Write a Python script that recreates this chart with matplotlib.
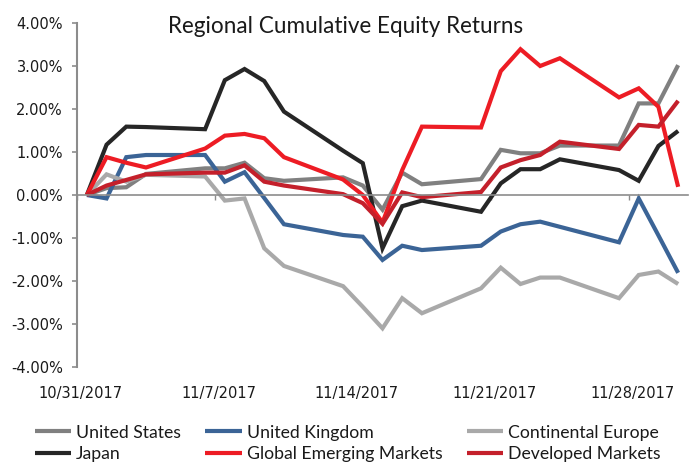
import matplotlib
matplotlib.use("Agg")
import matplotlib.pyplot as plt
import matplotlib.dates as mdates
import matplotlib.transforms as mtransforms
import pandas as pd

title = "Regional Cumulative Equity Returns"

dates = ["2017-10-31", "2017-11-01", "2017-11-02", "2017-11-03", "2017-11-06",
         "2017-11-07", "2017-11-08", "2017-11-09", "2017-11-10", "2017-11-13",
         "2017-11-14", "2017-11-15", "2017-11-16", "2017-11-17", "2017-11-20",
         "2017-11-21", "2017-11-22", "2017-11-23", "2017-11-24", "2017-11-27",
         "2017-11-28", "2017-11-29", "2017-11-30"]

united_states = [0.00, 0.16, 0.18, 0.49, 0.62, 0.62, 0.75, 0.39, 0.33, 0.41,
                 0.22, -0.34, 0.52, 0.25, 0.37, 1.05, 0.97, 0.97, 1.15, 1.15,
                 2.13, 2.13, 3.02]
united_kingdom = [0.00, -0.08, 0.88, 0.93, 0.93, 0.31, 0.53, -0.07, -0.68, -0.93,
                  -0.97, -1.51, -1.18, -1.28, -1.18, -0.85, -0.68, -0.62, -0.74, -1.10,
                  -0.08, -0.94, -1.81]
continental_europe = [0.00, 0.48, 0.31, 0.47, 0.43, -0.13, -0.08, -1.24, -1.65, -2.12,
                      -2.60, -3.10, -2.40, -2.75, -2.17, -1.69, -2.07, -1.92, -1.92, -2.40,
                      -1.86, -1.78, -2.07]
japan = [0.00, 1.17, 1.59, 1.58, 1.53, 2.67, 2.93, 2.65, 1.94, 1.03,
         0.74, -1.24, -0.26, -0.13, -0.39, 0.27, 0.60, 0.60, 0.83, 0.58,
         0.33, 1.14, 1.49]
global_emerging = [0.00, 0.88, 0.75, 0.64, 1.08, 1.38, 1.42, 1.32, 0.88, 0.36,
                   0.00, -0.64, 0.58, 1.59, 1.57, 2.88, 3.39, 3.00, 3.18, 2.27,
                   2.48, 2.05, 0.19]
developed = [0.00, 0.22, 0.35, 0.48, 0.52, 0.52, 0.69, 0.31, 0.22, 0.02,
             -0.19, -0.67, 0.06, -0.05, 0.07, 0.64, 0.81, 0.93, 1.24, 1.07,
             1.63, 1.59, 2.19]

series_names = ["United States", "United Kingdom", "Continental Europe",
                "Japan", "Global Emerging Markets", "Developed Markets"]
series_values = [united_states, united_kingdom, continental_europe,
                 japan, global_emerging, developed]
series_colors = ["#808080", "#3b6496", "#a9a9a9", "#262626", "#ed1c24", "#c4202b"]

x_tick_dates = ["2017-10-31", "2017-11-07", "2017-11-14", "2017-11-21", "2017-11-28"]
x_tick_labels = ["10/31/2017", "11/7/2017", "11/14/2017", "11/21/2017", "11/28/2017"]
y_ticks = [-4, -3, -2, -1, 0, 1, 2, 3, 4]

W, H = 695, 463
fig = plt.figure(figsize=(W / 100, H / 100), dpi=100)
ax = fig.add_axes([77 / W, 1 - 367 / H, (688 - 77) / W, (367 - 23) / H])

xnum = mdates.date2num(pd.to_datetime(dates)) + 0.5  # Excel date axis: point centred in day
lines = []
for name, vals, col in zip(series_names, series_values, series_colors):
    ln, = ax.plot(xnum, vals, color=col, lw=3.0, solid_joinstyle="miter",
                  solid_capstyle="butt", label=name)
    lines.append(ln)

x0 = mdates.date2num(pd.Timestamp("2017-10-31"))
x1 = mdates.date2num(pd.Timestamp("2017-12-01"))
ax.set_xlim(x0, x1)
ax.set_ylim(-4, 4)

axis_col = "#8c8c8c"
for s in ["top", "right"]:
    ax.spines[s].set_visible(False)
ax.spines["bottom"].set_position(("data", 0))
ax.spines["bottom"].set_color(axis_col)
ax.spines["bottom"].set_linewidth(1.2)
ax.spines["left"].set_color(axis_col)
ax.spines["left"].set_linewidth(1.5)

ax.set_yticks(y_ticks)
ax.set_yticklabels([f"{v:.2f}%" for v in y_ticks])
ax.tick_params(axis="y", direction="out", length=3.6, width=1.2, color=axis_col,
               pad=6.5, labelsize=10.5, labelcolor="#1a1a1a")

tick_nums = mdates.date2num(pd.to_datetime(x_tick_dates))
ax.set_xticks(tick_nums)
ax.tick_params(axis="x", direction="out", length=3.6, width=1.0, color=axis_col,
               labelbottom=False)
off = mtransforms.ScaledTranslation(4 / 100, 0, fig.dpi_scale_trans)
for xv, lab in zip(tick_nums, x_tick_labels):
    ax.text(xv, -0.076, lab, transform=ax.get_xaxis_transform() + off,
            ha="center", va="center", fontsize=10.5, color="#1a1a1a")

t = fig.text(346 / W, 1 - 33 / H, title, ha="center", va="baseline",
             fontsize=16, family="Lato", color="#1a1a1a")

order = [0, 3, 1, 4, 2, 5]
leg = fig.legend([lines[i] for i in order], [series_names[i] for i in order],
                 ncol=3, loc="center left", bbox_to_anchor=(35 / W, 1 - 443.5 / H),
                 frameon=False, borderpad=0, borderaxespad=0,
                 prop={"family": "Lato", "size": 12.7},
                 handlelength=2.05, handletextpad=0.28, columnspacing=1.38,
                 labelspacing=0.33)
for tx in leg.get_texts():
    tx.set_color("#1a1a1a")

# fit title width to reference
fig.canvas.draw()
r = fig.canvas.get_renderer()
bw = t.get_window_extent(r).width
t.set_fontsize(t.get_fontsize() * 357 / bw)

fig.savefig("out.png", dpi=100)
